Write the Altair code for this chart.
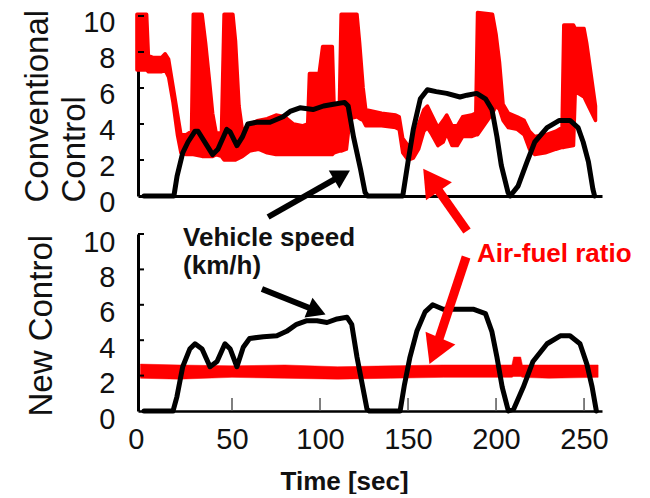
import altair as alt
import pandas as pd

FONT = "Liberation Sans"
RED = "#ff0000"
INK = "#111111"

# ---- Conventional control -------------------------------------------------
# Air-fuel ratio trace, stored as the lower / upper edge of the noisy band
conv_afr_time = [-4, 1.5, 2.5, 5, 10, 12, 14, 16.5, 19, 21, 24, 27, 28, 33, 35, 37, 39, 41,
                 44, 45.5, 50.5, 52, 54, 56, 60, 65, 70, 75, 80, 85, 90, 93, 94, 99.5, 101.5,
                 107, 108, 111, 112, 115, 117, 121, 122.5, 124.5, 126, 135, 143, 145, 147, 150,
                 153, 156, 159, 161, 163, 167, 170, 172, 175, 178, 181, 186, 188.5, 189.5, 198,
                 200, 202, 204, 207, 212, 216, 219, 222, 228, 234, 237.5, 238.5, 244, 245, 250,
                 251.5, 256.5]
conv_afr_low = [7.0, 7.0, 6.9, 6.9, 6.9, 7.0, 6.6, 5.2, 3.4, 2.4, 2.3, 2.3, 2.3, 2.2, 2.2, 2.2, 2.2, 2.3,
                2.2, 2.0, 2.0, 2.0, 2.1, 2.2, 2.5, 2.6, 2.4, 2.3, 2.3, 2.3, 2.3, 2.3, 2.3, 2.3, 2.3,
                2.3, 2.4, 2.5, 2.5, 2.6, 4.3, 4.4, 4.3, 4.2, 3.9, 3.9, 3.8, 3.7, 2.4, 2.0,
                2.1, 2.6, 3.6, 3.8, 3.5, 2.8, 3.0, 3.5, 2.8, 2.8, 3.3, 3.3, 3.4, 3.4, 4.6,
                5.0, 4.8, 4.2, 3.8, 3.7, 3.4, 2.6, 2.3, 2.4, 2.6, 2.7, 2.7, 2.8, 5.8, 5.5,
                5.2, 4.2]
conv_afr_high = [10.1, 10.1, 7.8, 7.7, 7.7, 7.9, 7.6, 6.1, 4.6, 3.4, 3.4, 3.6, 10.1, 10.1, 8.5, 6.6, 4.6, 3.5,
                 3.5, 10.1, 10.1, 8.6, 5.0, 3.6, 4.0, 4.2, 4.3, 4.5, 4.4, 4.0, 3.9, 4.0, 6.8, 6.8, 8.3,
                 8.3, 5.0, 5.0, 10.1, 10.1, 10.1, 10.1, 8.5, 6.0, 4.8, 4.6, 4.5, 4.4, 3.2, 2.8,
                 3.0, 4.0, 4.8, 5.0, 4.6, 3.8, 4.2, 4.5, 3.9, 3.9, 4.4, 4.5, 4.6, 10.2, 10.1,
                 9.0, 7.4, 5.1, 4.6, 4.4, 4.2, 3.6, 3.3, 3.4, 3.6, 3.8, 9.5, 9.5, 9.3, 9.3,
                 8.5, 5.0]

# Vehicle speed (km/h)
conv_speed_time = [0, 17, 18.8, 22, 25, 29, 30.7, 35.8, 39, 42, 47, 49, 52.8, 56, 59, 64, 71.6, 79,
                   83, 88.6, 96, 102, 107.6, 114, 116, 119, 123, 125.6, 127, 147, 150, 153, 157,
                   161, 166, 172, 179.5, 183.5, 189, 194, 197.7, 200.5, 203, 206.8, 208, 212.5,
                   217.6, 222, 229, 236, 242, 246.6, 249.5, 252.5, 255, 256]
conv_speed = [0, 0, 1.1, 2.4, 3.0, 3.6, 3.6, 2.8, 2.3, 2.6, 3.7, 3.55, 2.8, 3.3, 4.0, 4.1, 4.1, 4.4,
              4.7, 4.9, 4.8, 5.0, 5.1, 5.2, 5.0, 3.3, 1.5, 0.2, 0, 0, 1.9, 3.7, 5.4,
              5.9, 5.8, 5.7, 5.5, 5.6, 5.7, 5.4, 4.8, 3.3, 1.7, 0.2, 0, 0.55,
              1.9, 3.0, 3.8, 4.2, 4.2, 3.8, 3.0, 1.9, 0.4, 0]

# ---- New control ----------------------------------------------------------
new_afr_time = [-2, 20, 50, 80, 110, 140, 170, 205, 209, 210, 214, 215, 230, 258]
new_afr_low = [1.85, 1.8, 1.9, 1.85, 1.8, 1.85, 1.9, 1.9, 1.9, 1.95, 1.95, 1.9, 1.85, 1.9]
new_afr_high = [2.65, 2.6, 2.55, 2.6, 2.5, 2.55, 2.6, 2.6, 2.6, 3.05, 3.05, 2.6, 2.6, 2.6]

new_speed_time = [0, 16.5, 18.7, 22, 26, 29, 33, 37.5, 41.5, 46, 49, 52.8, 56.4, 60, 67.8, 75.5, 81,
                  86.7, 92.6, 98.3, 104, 109.7, 115.3, 118, 121, 124, 126.7, 128, 145.5, 148, 151,
                  155, 159.7, 164, 170, 177.6, 187, 194, 197.6, 200.5, 203.5, 207, 210, 215.5, 221,
                  229, 236.5, 242, 247.7, 251.6, 254.6, 257]
new_speed = [0, 0, 0.8, 2.5, 3.5, 3.8, 3.5, 2.5, 2.8, 3.8, 3.5, 2.5, 3.6, 4.1, 4.2, 4.25, 4.5,
             4.9, 5.1, 5.1, 5.0, 5.2, 5.3, 4.9, 3.05, 1.5, 0.1, 0, 0, 1.5, 3.0,
             4.5, 5.6, 6.0, 5.75, 5.75, 5.75, 5.5, 4.5, 3.05, 1.35, 0, 0.1, 1.35, 2.8,
             3.8, 4.25, 4.25, 3.8, 2.65, 1.35, 0]

# ---- Axes -----------------------------------------------------------------
y_tick_values = [0, 2, 4, 6, 8, 10]
inner_y_ticks = [2, 4, 6, 8, 10]
x_tick_values = [0, 50, 100, 150, 200, 250]
inner_x_ticks = [50, 100, 150, 200, 250]

# ---- Callouts (drawn in the New-control panel's data space) ---------------
note_text = ["Vehicle speed", "(km/h)", "Air-fuel ratio"]
note_time = [22.2, 22.2, 189.2]
note_value = [9.32, 7.74, 8.42]
note_color = [INK, INK, RED]

arrow_tail_time = [70.5, 67.0, 183.5, 183.0]
arrow_tail_value = [10.96, 6.89, 10.17, 8.70]
arrow_head_time = [112.5, 98.3, 163.1, 165.3]
arrow_head_value = [13.33, 5.65, 13.05, 3.39]
arrow_angle = [60, 112, 325, 203]
arrow_head_size = [450, 450, 1000, 1050]
arrow_color = ["#000000", "#000000", RED, RED]
arrow_width = [6, 6, 9, 9]

X_DOMAIN = [-3.4, 260.2]
PANEL_W = 464

xscale = alt.Scale(domain=X_DOMAIN, nice=False, zero=False)
yscale = alt.Scale(domain=[0, 10], nice=False, zero=False)


def y_axis(title, title_x, title_y, label_line):
    # "line-top" baseline with a chosen line height drops the labels a little
    # below their tick positions
    return alt.Axis(
        values=y_tick_values, format="d", grid=False, ticks=False, tickSize=0,
        labelFont=FONT, labelFontSize=29, labelColor=INK, labelPadding=23,
        labelBaseline="line-top", labelLineHeight=label_line, labelFlush=False,
        domainColor="#000000", domainWidth=3,
        title=title, titleFont=FONT, titleFontSize=33, titleFontWeight="normal",
        titleColor=INK, titleAngle=270, titleAlign="left", titleBaseline="top",
        titleX=title_x, titleY=title_y, titleLineHeight=37,
    )


top_x_axis = alt.Axis(labels=False, ticks=False, title=None, grid=False,
                      domainColor="#000000", domainWidth=3)
bottom_x_axis = alt.Axis(
    values=x_tick_values, format="d", grid=False, ticks=False, tickSize=0,
    labelFont=FONT, labelFontSize=29, labelColor=INK, labelPadding=14, labelFlush=False,
    labelAlign={"condition": {"test": "datum.value === 0", "value": "right"}, "value": "center"},
    domainColor="#000000", domainWidth=2.5,
    title="Time [sec]", titleFont=FONT, titleFontSize=26, titleFontWeight="bold",
    titleColor=INK, titleAlign="left", titleBaseline="alphabetic", titleX=142, titleY=78,
)


def panel(afr_t, afr_lo, afr_hi, spd_t, spd, xaxis, yaxis, height, band_edge, extra=()):
    afr = pd.DataFrame({"t": afr_t, "lo": afr_lo, "hi": afr_hi})
    spd_df = pd.DataFrame({"t": spd_t, "v": spd})
    ticks_y = pd.DataFrame({"v": inner_y_ticks})

    X = lambda f: alt.X(f"{f}:Q", scale=xscale, axis=xaxis)
    Y = lambda f: alt.Y(f"{f}:Q", scale=yscale, axis=yaxis)

    band = alt.Chart(afr).mark_area(
        color=RED, opacity=1, interpolate="linear",
        stroke=RED, strokeWidth=band_edge, strokeJoin="round",
    ).encode(x=X("t"), y=Y("lo"), y2="hi")
    speed = alt.Chart(spd_df).mark_line(color="#000000", strokeWidth=5, strokeJoin="round",
                                        strokeCap="round").encode(x=X("t"), y=Y("v"))
    yt = alt.Chart(ticks_y).mark_rule(color="#000000", strokeWidth=2).encode(
        y=Y("v"), x=alt.value(0), x2=alt.value(6))
    layers = [band, speed, yt] + [mk(X, Y) for mk in extra]
    return alt.layer(*layers).properties(width=PANEL_W, height=height)


def x_ticks_layer(X, Y):
    df = pd.DataFrame({"t": inner_x_ticks})
    return alt.Chart(df).mark_rule(color="#555555", strokeWidth=1.5).encode(
        x=X("t"), y=alt.value(177), y2=alt.value(164))


def arrows_layer(X, Y):
    df = pd.DataFrame({
        "t0": arrow_tail_time, "v0": arrow_tail_value,
        "t1": arrow_head_time, "v1": arrow_head_value,
        "ang": arrow_angle, "sz": arrow_head_size,
        "col": arrow_color, "w": arrow_width,
    })
    shafts = alt.Chart(df).mark_rule(strokeCap="butt").encode(
        x=X("t0"), y=Y("v0"), x2="t1", y2="v1",
        color=alt.Color("col:N", scale=None),
        strokeWidth=alt.StrokeWidth("w:Q", scale=None))
    heads = alt.Chart(df).mark_point(shape="triangle-up", filled=True, opacity=1).encode(
        x=X("t1"), y=Y("v1"),
        angle=alt.Angle("ang:Q", scale=None),
        size=alt.Size("sz:Q", scale=None),
        color=alt.Color("col:N", scale=None))
    return alt.layer(shafts, heads)


def notes_layer(X, Y):
    df = pd.DataFrame({"t": note_time, "v": note_value, "txt": note_text, "col": note_color})
    return alt.Chart(df).mark_text(font=FONT, fontSize=26, fontWeight="bold",
                                   align="left", baseline="alphabetic").encode(
        x=X("t"), y=Y("v"), text="txt:N", color=alt.Color("col:N", scale=None))


top = panel(conv_afr_time, conv_afr_low, conv_afr_high, conv_speed_time, conv_speed,
            top_x_axis, y_axis(["Conventional", "Control"], -117, 186, 14), 180, 3.5)
bottom = panel(new_afr_time, new_afr_low, new_afr_high, new_speed_time, new_speed,
               bottom_x_axis, y_axis("New Control", -113, 182, 18), 177, 0.5,
               extra=(x_ticks_layer, arrows_layer, notes_layer))

chart = alt.vconcat(top, bottom, spacing=38, bounds="flush").properties(
    padding={"left": 21, "top": 8, "right": 0, "bottom": 0},
    background="white",
).configure_view(stroke=None)

chart.save("out.html", embed_options={"renderer": "svg", "actions": False})
